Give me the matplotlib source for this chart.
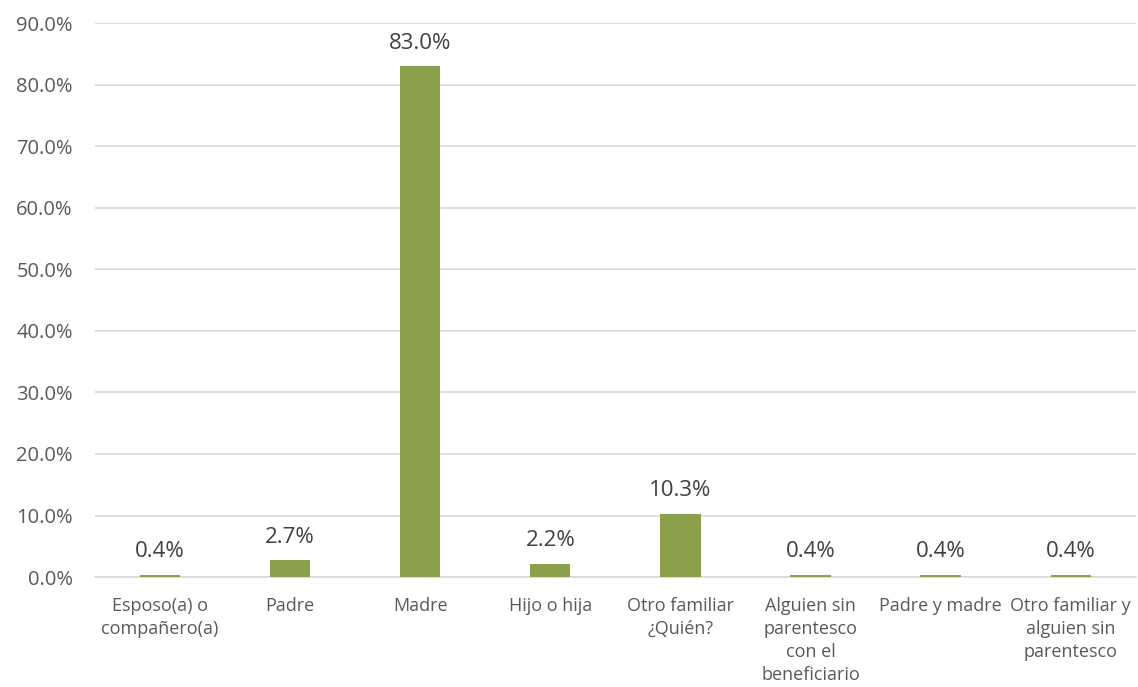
import matplotlib.pyplot as plt
from matplotlib.ticker import PercentFormatter

plt.rcParams['font.family'] = ['Open Sans', 'DejaVu Sans']

# data
categorias = ['Esposo(a) o\ncompañero(a)', 'Padre', 'Madre', 'Hijo o hija',
              'Otro familiar\n¿Quién?', 'Alguien sin\nparentesco\ncon el\nbeneficiario',
              'Padre y madre', 'Otro familiar y\nalguien sin\nparentesco']
valores = [0.4, 2.7, 83.0, 2.2, 10.3, 0.4, 0.4, 0.4]
etiquetas = ['0.4%', '2.7%', '83.0%', '2.2%', '10.3%', '0.4%', '0.4%', '0.4%']

fig = plt.figure(figsize=(11.38, 6.87), dpi=100)
ax = fig.add_axes([0.0835, 0.160, 0.9145, 0.8065])

x = range(len(categorias))
bars = ax.bar(x, valores, width=0.31, color='#8AA04A', zorder=3)

# labels above bars
for b, t in zip(bars, etiquetas):
    ax.annotate(t, (b.get_x() + b.get_width() / 2, b.get_height()),
                xytext=(0, 9), textcoords='offset points',
                ha='center', va='bottom', fontsize=16, color='#404040')

ax.set_xlim(-0.5, len(categorias) - 0.5)
ax.set_ylim(0, 90)
ax.set_yticks(range(0, 91, 10))
ax.yaxis.set_major_formatter(PercentFormatter(decimals=1))
ax.set_xticks(list(x))
ax.set_xticklabels(categorias, fontsize=13, color='#595959', linespacing=1.38)
ax.tick_params(axis='y', labelsize=14.5, labelcolor='#595959', length=0, pad=16)
ax.tick_params(axis='x', length=0, pad=14)

ax.grid(axis='y', color='#D9D9D9', linewidth=1.2, zorder=0)
for s in ['top', 'right', 'left']:
    ax.spines[s].set_visible(False)
ax.spines['bottom'].set_color('#D9D9D9')
ax.spines['bottom'].set_linewidth(1.2)

fig.savefig('out.png', dpi=100)
